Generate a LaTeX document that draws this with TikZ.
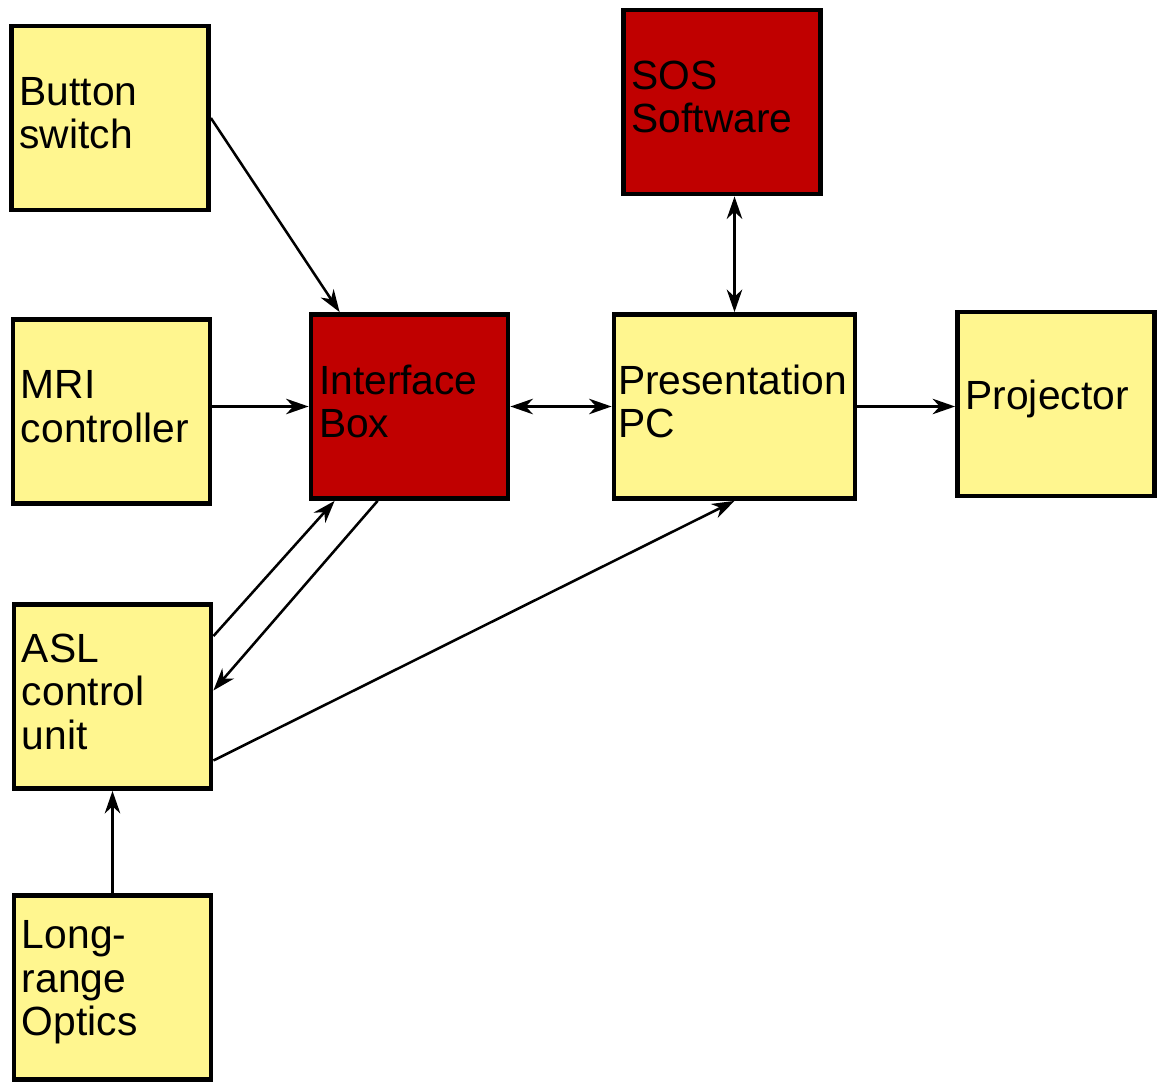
\documentclass[tikz,border=0pt]{standalone}
\usepackage{fontspec}
\setmainfont{Liberation Sans}
\usetikzlibrary{arrows.meta}
\definecolor{jaunePale}{HTML}{FFF68F}
\definecolor{rougeFonce}{HTML}{C00000}
\tikzset{
  bloc/.style={
    rectangle, draw=black, line width=3.4pt, fill=jaunePale,
    minimum width=49.25mm, minimum height=46mm, text width=45.25mm,
    inner xsep=2mm, align=left, font=\fontsize{29}{31}\selectfont,
    execute at end node={\par\vspace{7pt}}},
  blocRouge/.style={bloc, fill=rougeFonce},
  blocLarge/.style={bloc, minimum width=60.25mm, text width=58.25mm, inner xsep=1mm},
  pointe/.tip={Stealth[length=16pt, width=11pt, inset=5pt]},
  fleche/.style={-pointe, line width=1.8pt},
  flecheDouble/.style={pointe-pointe, line width=1.8pt}
}

\begin{document}
\begin{tikzpicture}[x=0.25mm, y=-0.25mm]
  \useasboundingbox (0,0) rectangle (1157,1083);

  % --- Colonne de gauche : les entrees
  \node[bloc]      (bouton)     at ( 110,  118) {Button\\switch};
  \node[bloc]      (irm)        at (111.5, 411.5) {MRI\\controller};
  \node[bloc]      (asl)        at (112.5, 696.5) {ASL\\control\\unit};
  \node[bloc]      (optique)    at (112.5, 987.5) {Long-\\range\\Optics};

  % --- Rang median : interface, PC et projecteur
  \node[blocRouge] (interface)  at (409.5, 406.5) {Interface\\Box};
  \node[blocLarge] (pc)         at (734.5, 406.5) {Presentation\\PC};
  \node[bloc]      (projecteur) at (1056,  404) {Projector};
  \node[blocRouge] (sos)        at ( 722,  102) {SOS\\Software};

  % --- Vers la boite d'interface
  \draw[fleche] (bouton.east) -- ([xshift=7.75mm]interface.north west);
  \draw[fleche] (irm.east |- interface.west) -- (interface.west);
  \draw[fleche] ([yshift=-8.5mm]asl.north east) -- ([xshift=6.5mm]interface.south west);
  \draw[fleche] ([xshift=17.25mm]interface.south west) -- ([yshift=1.5mm]asl.east);

  % --- PC de presentation
  \draw[flecheDouble] (interface) -- (pc);
  \draw[flecheDouble] (sos.south -| pc.north) -- (pc.north);
  \draw[fleche] (pc) -- (projecteur.west |- pc.east);
  \draw[fleche] ([yshift=-16mm]asl.east) -- (pc.south);

  % --- Optique
  \draw[fleche] (optique) -- (asl);

\end{tikzpicture}
\end{document}
